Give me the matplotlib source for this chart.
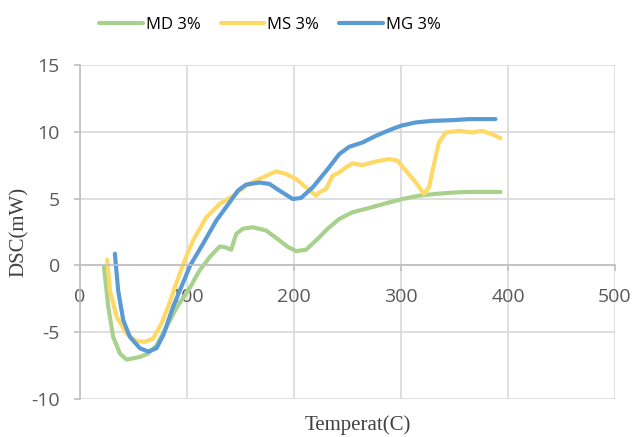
import matplotlib
matplotlib.use("Agg")
import matplotlib.pyplot as plt

plt.rcParams["axes.unicode_minus"] = False

# MD 3% (verde)
md_t = [22.4, 26.4, 31, 37.3, 43.5, 56, 63.7, 71.5, 80.8, 90.7, 102.5, 111.8, 121.2,
        130.5, 136, 141.3, 146, 152.2, 161.5, 174, 186.4, 194, 201.9, 211.2, 221,
        231.4, 242.3, 254.7, 270.3, 285.8, 301.3, 316.9, 332.4, 347.9, 363.5, 393]
md_v = [-0.1, -3.1, -5.35, -6.6, -7.05, -6.85, -6.6, -6.0, -4.6, -3.1, -1.7, -0.37, 0.62,
        1.42, 1.35, 1.17, 2.36, 2.74, 2.86, 2.61, 1.87, 1.4, 1.07, 1.17, 1.9,
        2.74, 3.48, 3.98, 4.3, 4.65, 4.97, 5.22, 5.35, 5.45, 5.5, 5.5]

# MS 3% (amarillo)
ms_t = [25.4, 28, 34.2, 43.5, 52.8, 60.6, 68.3, 76.1, 82.3, 96, 105.6, 118, 130.5,
        142.9, 155.3, 167.7, 183.3, 192.6, 201.9, 211.2, 220.5, 223.7, 229.9, 236.1,
        242.3, 248.5, 254.7, 264, 276.5, 288.9, 296.7, 304.5, 313.7, 321.5, 326.2,
        330.8, 335.5, 341.7, 354.1, 366.5, 375.8, 385.2, 393]
ms_v = [0.42, -1.9, -3.85, -5.1, -5.67, -5.72, -5.47, -4.35, -3.1, 0.0, 1.87, 3.6, 4.6,
        5.2, 5.97, 6.47, 7.04, 6.84, 6.47, 5.84, 5.22, 5.47, 5.72, 6.72,
        6.96, 7.34, 7.64, 7.51, 7.78, 7.96, 7.84, 7.09, 6.22, 5.35, 5.85,
        7.59, 9.2, 9.95, 10.07, 9.95, 10.07, 9.82, 9.52]

# MG 3% (azul)
mg_t = [32.6, 35.7, 40.4, 46.6, 56, 63.7, 71.5, 78, 87, 103, 115, 127.4, 139.8, 147.6,
        155.3, 167.7, 177, 186.4, 198.8, 206.6, 217.5, 231.4, 242.3, 251.6, 264,
        276.5, 288.9, 299.8, 313.7, 329.3, 347.9, 363.5, 388.3]
mg_v = [0.87, -1.9, -4.1, -5.35, -6.2, -6.45, -6.2, -5.2, -3.1, 0.0, 1.62, 3.36, 4.72, 5.6,
        6.05, 6.2, 6.1, 5.6, 4.97, 5.05, 5.84, 7.2, 8.33, 8.88, 9.2,
        9.7, 10.12, 10.45, 10.7, 10.82, 10.87, 10.95, 10.95]

xticks = [0, 100, 200, 300, 400, 500]
yticks = [-10, -5, 0, 5, 10, 15]

fig = plt.figure(figsize=(6.36, 4.37), dpi=100)
ax = fig.add_axes([80/636, 1 - 399/437, 535/636, 334/437])

ax.plot(md_t, md_v, color="#A9D18E", lw=3, label="MD 3%", solid_capstyle="round")
ax.plot(ms_t, ms_v, color="#FFD966", lw=3, label="MS 3%", solid_capstyle="round")
ax.plot(mg_t, mg_v, color="#5B9BD5", lw=3, label="MG 3%", solid_capstyle="round")

ax.set_xlim(0, 500)
ax.set_ylim(-10, 15)
ax.set_xticks(xticks)
ax.set_yticks(yticks)
ax.grid(True, color="#D9D9D9", lw=1.2)
ax.set_axisbelow(True)

for s in ["top", "right"]:
    ax.spines[s].set_visible(False)
ax.spines["left"].set_color("#BFBFBF")
ax.spines["left"].set_linewidth(1.2)
ax.spines["bottom"].set_position(("data", 0))
ax.spines["bottom"].set_color("#BFBFBF")
ax.spines["bottom"].set_linewidth(1.2)

ax.tick_params(axis="x", direction="out", length=4.5, width=1.2, color="#BFBFBF",
               pad=12, labelsize=14, labelcolor="#595959")
ax.tick_params(axis="y", direction="out", length=4.5, width=1.2, color="#BFBFBF",
               pad=10, labelsize=14, labelcolor="#595959")
for lab in ax.get_xticklabels() + ax.get_yticklabels():
    lab.set_fontfamily("Open Sans")

ax.set_xlabel("Temperat(C)", family="Liberation Serif", fontsize=15, color="#404040")
ax.xaxis.set_label_coords(0.52, -0.048)
ax.set_ylabel("DSC(mW)", family="Liberation Serif", fontsize=15, color="#404040")
ax.yaxis.set_label_coords(-0.095, 0.5)

leg = fig.legend(loc="center", bbox_to_anchor=(270/636, 1 - 25/437), ncol=3, frameon=False,
                 handlelength=2.6, columnspacing=1.2, handletextpad=0.2,
                 prop={"family": "Open Sans", "size": 12})

fig.savefig("out.png", dpi=100)
